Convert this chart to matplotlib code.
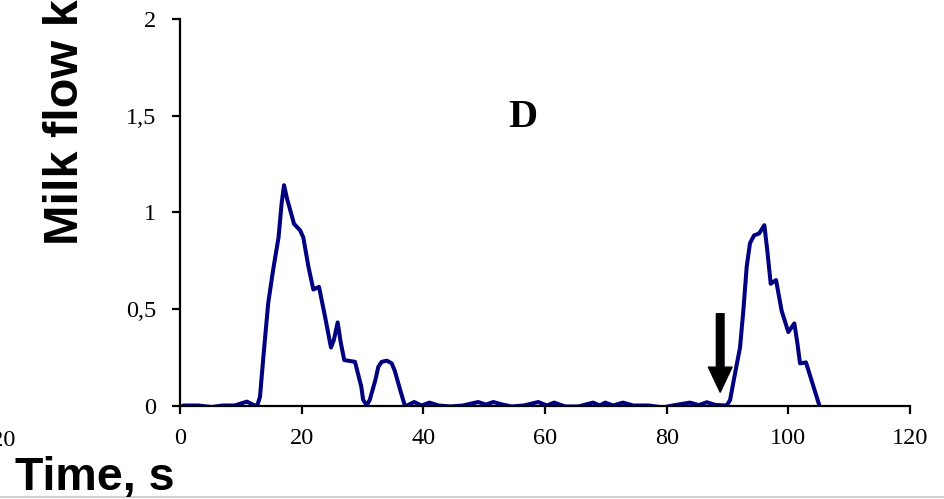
import numpy as np
import matplotlib
matplotlib.use("Agg")
import matplotlib.pyplot as plt
from matplotlib.lines import Line2D

# Milk flow recording, cow D
time_s = [0.5, 3.0, 5.2, 7.0, 9.0, 11.0, 12.3, 12.7, 13.15, 13.7, 14.5, 15.3, 16.2,
          16.7, 17.1, 17.6, 18.74, 19.73, 20.27, 21.1, 21.92, 22.85, 23.84, 24.82,
          25.3, 25.92, 26.4, 27.0, 28.77, 29.8, 30.1, 30.7, 31.2, 32.1, 32.6, 33.16,
          34.0, 34.8, 35.3, 36.2, 37.0, 38.5, 39.7, 41.0, 42.5, 44.5, 46.5, 49.0,
          50.3, 51.5, 53.0, 54.5, 56.5, 58.9, 60.3, 61.5, 63.3, 65.5, 67.9, 69.0,
          69.9, 71.2, 72.8, 74.5, 77.0, 79.4, 81.0, 83.8, 85.3, 86.6, 88.0, 89.87,
          90.42, 91.24, 92.06, 92.6, 93.16, 93.7, 94.36, 95.2, 96.06, 96.55, 97.1,
          97.98, 98.9, 100.0, 100.99, 101.5, 101.92, 102.9, 105.1]
flow_kg = [0.0, 0.0, -0.008, 0.0, 0.0, 0.02, 0.0, 0.0, 0.045, 0.25, 0.53, 0.70, 0.87,
           1.045, 1.14, 1.07, 0.94, 0.907, 0.87, 0.72, 0.60, 0.614, 0.46, 0.30,
           0.34, 0.43, 0.33, 0.235, 0.226, 0.097, 0.03, 0.0, 0.03, 0.13, 0.20, 0.226,
           0.232, 0.218, 0.18, 0.08, -0.005, 0.018, 0.0, 0.015, 0.0, -0.005, 0.0, 0.018,
           0.005, 0.018, 0.005, -0.005, 0.0, 0.018, 0.0, 0.015, -0.005, -0.005, 0.015, 0.0,
           0.015, 0.0, 0.015, 0.0, 0.0, -0.01, 0.0, 0.015, 0.002, 0.017, 0.003, 0.0,
           0.028, 0.166, 0.30, 0.49, 0.72, 0.84, 0.88, 0.89, 0.933, 0.80, 0.63,
           0.649, 0.49, 0.38, 0.425, 0.32, 0.218, 0.223, 0.0]

x_ticks = [0, 20, 40, 60, 80, 100, 120]
y_ticks = [0, 0.5, 1, 1.5, 2]
y_tick_labels = ["0", "0,5", "1", "1,5", "2"]

serif = "Liberation Serif"
sans = "Liberation Sans"

fig = plt.figure(figsize=(9.45, 4.99), dpi=100)
ax = fig.add_axes([180 / 945, 93.5 / 499, 730 / 945, 386.5 / 499])

ax.plot(time_s, flow_kg, color="#000080", lw=2.9, solid_joinstyle="round",
        solid_capstyle="round")

ax.set_xlim(0, 120)
ax.set_ylim(0, 2)
ax.set_xticks(x_ticks)
ax.set_yticks(y_ticks)
ax.set_xticklabels([str(t) for t in x_ticks], fontfamily=serif, fontsize=17.5)
ax.set_yticklabels(y_tick_labels, fontfamily=serif, fontsize=17.5)

for side in ("top", "right"):
    ax.spines[side].set_visible(False)
for side in ("left", "bottom"):
    ax.spines[side].set_linewidth(1.6)
ax.tick_params(axis="both", direction="out", length=6, width=1.6, color="black")
ax.tick_params(axis="y", pad=11)
ax.tick_params(axis="x", pad=10)

# panel letter
ax.text(56.4, 1.49, "D", fontfamily=serif, fontweight="bold", fontsize=29,
        ha="center", va="center")

# arrow marking the second let-down
ax.annotate("", xy=(88.8, 0.069), xytext=(88.8, 0.475),
            arrowprops=dict(facecolor="black", edgecolor="black", width=5.5,
                            headwidth=17, headlength=18, shrink=0))

# axis titles
fig.text(66 / 945, (499 - 245) / 499, "Milk flow kg/min", rotation=90,
         fontfamily=sans, fontweight="bold", fontsize=35, ha="center", va="bottom")
fig.text(15 / 945, (499 - 490) / 499, "Time, s", fontfamily=sans,
         fontweight="bold", fontsize=33.5, ha="left", va="baseline")

# last tick label of the neighbouring panel
fig.text(16 / 945, (499 - 440) / 499, "120", fontfamily=serif, fontsize=17.5,
         ha="right", va="center")

fig.add_artist(Line2D([0, 1], [2 / 499, 2 / 499], transform=fig.transFigure,
                      color="#d0d0d0", lw=1.5))

fig.savefig("out.png", dpi=100)
